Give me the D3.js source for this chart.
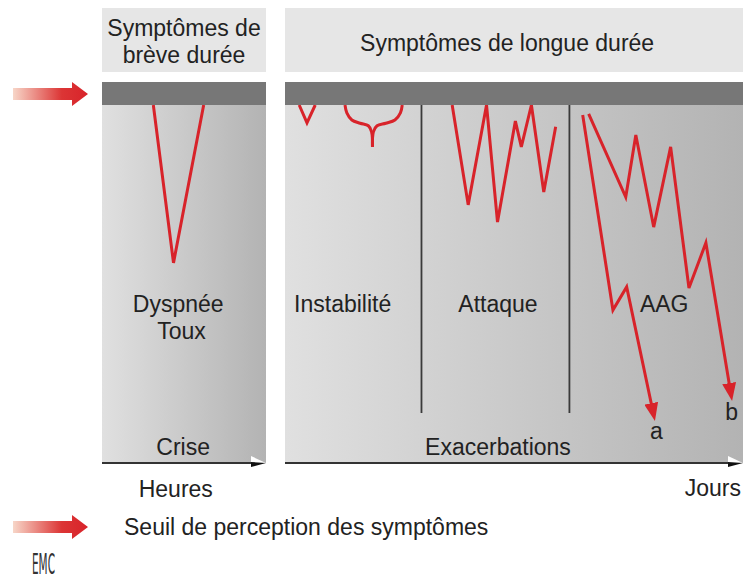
<!DOCTYPE html>
<html>
<head>
<meta charset="utf-8">
<script src="https://cdn.jsdelivr.net/npm/d3@7"></script>
<style>
  body { margin: 0; background: #fff; }
  text { font-family: "Liberation Sans", Arial, Helvetica, sans-serif; fill: #222; }
</style>
</head>
<body>
<div id="chartHolder"></div>
<script>
// time runs 0..100 across each panel, depth 0 = perception threshold, 100 = axis
const shortTitle = ["Symptômes de", "brève durée"];
const longTitle = ["Symptômes de longue durée"];
const shortLabels = ["Dyspnée", "Toux"];
const phaseLabels = ["Instabilité", "Attaque", "AAG"];
const phaseDividers = [29.8, 62.1];
const crisePoints = [[31.3, 0], [43.6, 44.1], [62.0, 0]];
const instabV = [[3.1, 0], [4.8, 5.0], [6.6, 0]];
const instabCuspLeft = [[13.1, 0], [13.5, 2.2], [14.6, 4.2], [16.4, 5.1], [18.2, 5.8], [18.9, 7.5], [19.1, 11.7]];
const instabCuspRight = [[19.1, 11.7], [19.3, 7.5], [20.1, 5.8], [22.0, 5.1], [24.0, 4.2], [25.2, 2.2], [25.6, 0]];
const attaquePoints = [[36.5, 0], [40.0, 27.9], [44.0, 0], [46.4, 32.7], [50.3, 4.5],
                       [51.6, 11.7], [53.8, 0], [56.5, 24.3], [59.1, 6.1]];
const aagA = [[65.0, 2.8], [71.6, 57.3], [74.6, 50.8], [80.5, 86.6]];
const aagB = [[66.3, 2.5], [74.4, 25.7], [76.6, 8.4], [80.5, 34.1], [84.2, 11.7],
              [88.2, 51.1], [91.9, 38.5], [97.4, 81.0]];
const axisLabels = ["Heures", "Jours"];
const panelLabels = ["Crise", "Exacerbations"];
const legendText = "Seuil de perception des symptômes";

function GetChart(){
    const width = 743;
    const height = 581;
    const red = "#d8232a";
    const svg = d3.select("#chartHolder")
        .append("svg")
        .attr("width", width)
        .attr("height", height);

    const xLeft = d3.scaleLinear().domain([0, 100]).range([102, 266]);
    const xRight = d3.scaleLinear().domain([0, 100]).range([285, 743]);
    const yDepth = d3.scaleLinear().domain([0, 100]).range([105, 463]);

    const defs = svg.append("defs");
    const panelGrad = defs.append("linearGradient").attr("id", "panelGrad");
    panelGrad.append("stop").attr("offset", "0%").attr("stop-color", "#e0e0e0");
    panelGrad.append("stop").attr("offset", "100%").attr("stop-color", "#b3b3b3");
    const arrowGrad = defs.append("linearGradient").attr("id", "arrowGrad");
    arrowGrad.append("stop").attr("offset", "0%").attr("stop-color", "#f7d6c8");
    arrowGrad.append("stop").attr("offset", "65%").attr("stop-color", "#dc3535");
    arrowGrad.append("stop").attr("offset", "100%").attr("stop-color", "#d8232a");
    defs.append("marker")
        .attr("id", "head")
        .attr("markerUnits", "userSpaceOnUse")
        .attr("viewBox", "0 0 18 14")
        .attr("markerWidth", 18).attr("markerHeight", 14)
        .attr("refX", 12).attr("refY", 7)
        .attr("orient", "auto")
        .append("path")
        .attr("d", "M0,0 L18,7 L0,14 Z")
        .attr("fill", red);

    //panels
    const panels = [
        {x: xLeft, title: shortTitle},
        {x: xRight, title: longTitle}
    ];
    panels.forEach(p => {
        const x0 = p.x(0), x1 = p.x(100);
        svg.append("rect").attr("x", x0).attr("y", 8)
            .attr("width", x1 - x0).attr("height", 64).attr("fill", "#e6e6e6");
        svg.append("rect").attr("x", x0).attr("y", yDepth(0))
            .attr("width", x1 - x0).attr("height", yDepth(100) - yDepth(0))
            .attr("fill", "url(#panelGrad)");
    });

    const fontSize = "23px";

    //header text
    svg.selectAll(".shortTitle").data(shortTitle).enter().append("text")
        .attr("x", xLeft(50)).attr("y", (d, i) => 36 + i * 27)
        .attr("text-anchor", "middle").style("font-size", fontSize).text(d => d);
    svg.append("text").attr("x", xRight(48.5)).attr("y", 51)
        .attr("text-anchor", "middle").style("font-size", fontSize).text(longTitle[0]);

    //dividers between phases
    svg.selectAll(".divider").data(phaseDividers).enter().append("line")
        .attr("x1", d => xRight(d)).attr("x2", d => xRight(d))
        .attr("y1", yDepth(0)).attr("y2", yDepth(86))
        .attr("stroke", "#3a3a3a").attr("stroke-width", 1.8);

    //curves
    const lineL = d3.line().x(d => xLeft(d[0])).y(d => yDepth(d[1]));
    const lineR = d3.line().x(d => xRight(d[0])).y(d => yDepth(d[1]));
    const curveR = d3.line().x(d => xRight(d[0])).y(d => yDepth(d[1])).curve(d3.curveCatmullRom);
    const curves = [
        {d: lineL(crisePoints)},
        {d: lineR(instabV)},
        {d: curveR(instabCuspLeft)},
        {d: curveR(instabCuspRight)},
        {d: lineR(attaquePoints)},
        {d: lineR(aagA), arrow: true},
        {d: lineR(aagB), arrow: true}
    ];
    svg.selectAll(".curve").data(curves).enter().append("path")
        .attr("class", "curve")
        .attr("d", c => c.d)
        .attr("fill", "none")
        .attr("stroke", red)
        .attr("stroke-width", 3)
        .attr("stroke-linejoin", "miter")
        .attr("marker-end", c => c.arrow ? "url(#head)" : null);

    //threshold band
    panels.forEach(p => {
        svg.append("rect").attr("x", p.x(0)).attr("y", 82)
            .attr("width", p.x(100) - p.x(0)).attr("height", yDepth(0) - 82)
            .attr("fill", "#777");
    });

    //labels in panels
    svg.selectAll(".shortLabel").data(shortLabels).enter().append("text")
        .attr("x", (d, i) => xLeft(46.5 + i * 2)).attr("y", (d, i) => 312 + i * 27)
        .attr("text-anchor", "middle").style("font-size", fontSize).text(d => d);
    const phaseX = [12.6, 46.5, 82.8];
    svg.selectAll(".phaseLabel").data(phaseLabels).enter().append("text")
        .attr("x", (d, i) => xRight(phaseX[i])).attr("y", 312)
        .attr("text-anchor", "middle").style("font-size", fontSize).text(d => d);
    svg.append("text").attr("x", xRight(81.1)).attr("y", 439)
        .attr("text-anchor", "middle").style("font-size", fontSize).text("a");
    svg.append("text").attr("x", xRight(97.5)).attr("y", 420)
        .attr("text-anchor", "middle").style("font-size", fontSize).text("b");
    svg.append("text").attr("x", xLeft(49.5)).attr("y", 455)
        .attr("text-anchor", "middle").style("font-size", fontSize).text(panelLabels[0]);
    svg.append("text").attr("x", xRight(46.5)).attr("y", 455)
        .attr("text-anchor", "middle").style("font-size", fontSize).text(panelLabels[1]);

    //time axes
    panels.forEach(p => {
        const x0 = p.x(0), x1 = p.x(100), y = yDepth(100);
        svg.append("line").attr("x1", x0).attr("x2", x1 - 4)
            .attr("y1", y).attr("y2", y)
            .attr("stroke", "#333").attr("stroke-width", 2);
        svg.append("path").attr("d", `M${x1 - 15},${y - 7} L${x1},${y} L${x1 - 15},${y} Z`)
            .attr("fill", "#fff");
        svg.append("path").attr("d", `M${x1 - 15},${y - 1} L${x1},${y} L${x1 - 15},${y + 4} Z`)
            .attr("fill", "#111");
    });
    svg.append("text").attr("x", xLeft(45)).attr("y", 497)
        .attr("text-anchor", "middle").style("font-size", fontSize).text(axisLabels[0]);
    svg.append("text").attr("x", 741).attr("y", 496)
        .attr("text-anchor", "end").style("font-size", fontSize).text(axisLabels[1]);

    //threshold arrows
    const arrowShape = cy => `M13,${cy - 6} L72,${cy - 6} L72,${cy - 12} L88,${cy} L72,${cy + 12} L72,${cy + 6} L13,${cy + 6} Z`;
    [94, 527].forEach(cy => {
        svg.append("path").attr("d", arrowShape(cy)).attr("fill", "url(#arrowGrad)");
    });
    svg.append("text").attr("x", 124).attr("y", 535)
        .style("font-size", fontSize).text(legendText);

    //logo
    svg.append("text").attr("x", 32).attr("y", 574)
        .attr("textLength", 23).attr("lengthAdjust", "spacingAndGlyphs")
        .style("font-size", "28px").style("font-weight", "300")
        .style("font-family", "'DejaVu Sans Condensed', 'Liberation Sans Narrow', sans-serif")
        .style("fill", "#333").text("EMC");
}
GetChart();
</script>
</body>
</html>
